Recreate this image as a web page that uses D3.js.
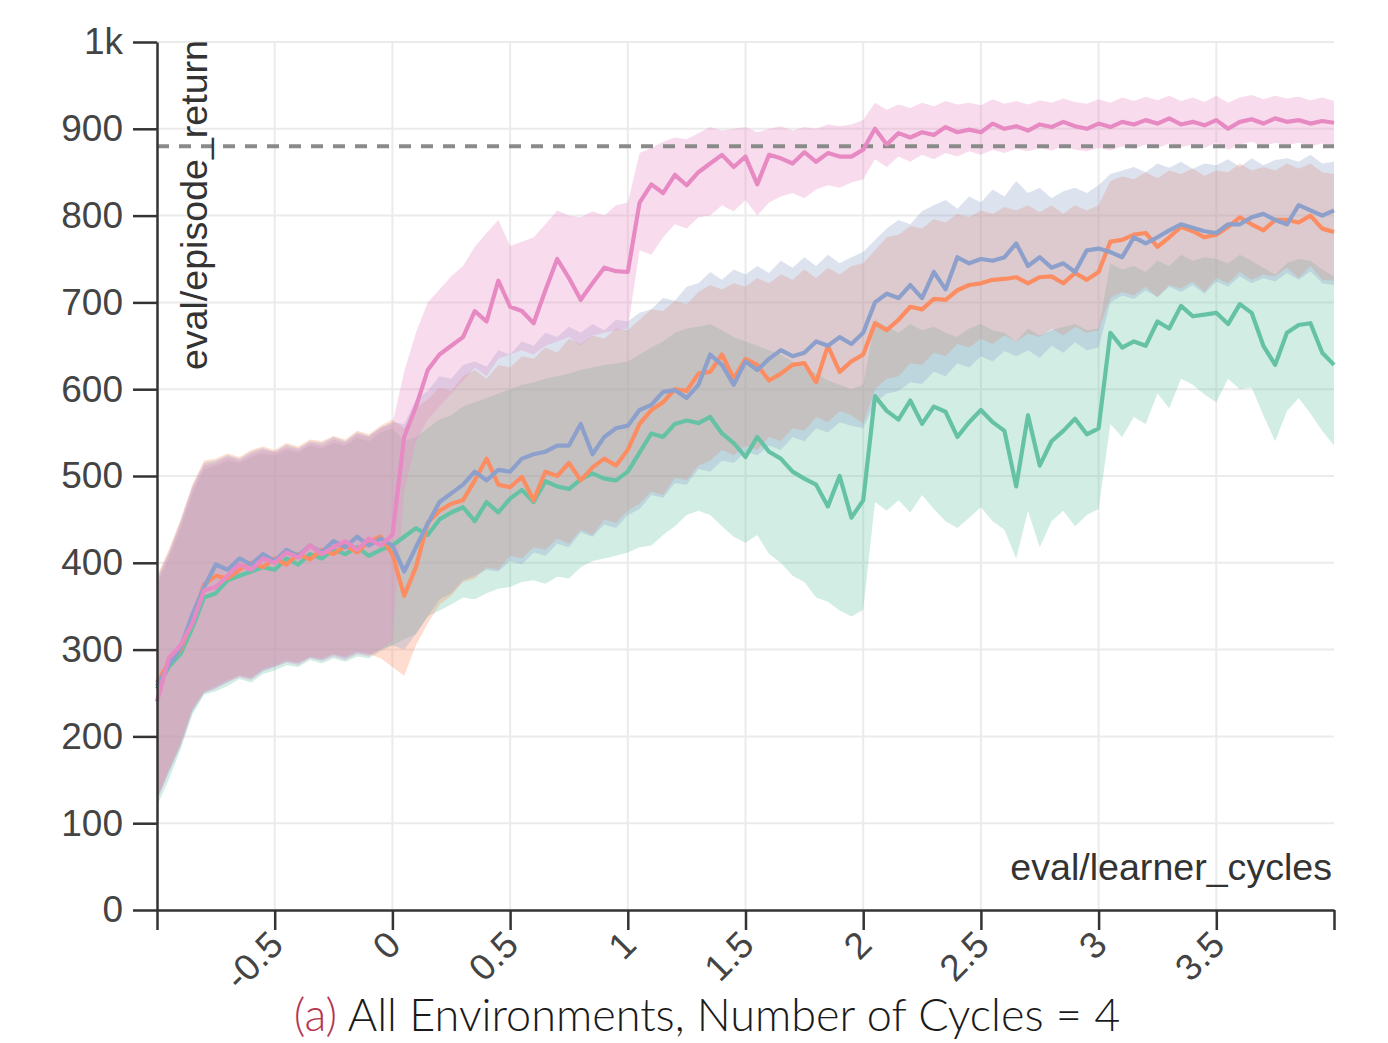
<!DOCTYPE html>
<html>
<head>
<meta charset="utf-8">
<script src="https://cdn.jsdelivr.net/npm/d3@7"></script>
<style>
  body { margin: 0; background: #ffffff; }
  svg { display: block; }
</style>
</head>
<body>
<script>
// ---------- DATA ----------
const xStart = -1, xStep = 0.05; // sample positions along eval/learner_cycles
const seriesNames = ["green", "orange", "blue", "pink"];
const seriesColors = ["#66c2a5", "#fc8d62", "#8da0cb", "#e78ac3"];

const greenMean = [255,280,295,325,360,365,380,385,390,395,392,405,398,410,405,415,410,418,408,415,420,
  430,440,432,450,458,464,448,470,458,474,484,470,494,488,485,496,503,497,495,505,
  527,549,545,560,564,561,568,549,538,522,545,528,520,505,497,490,465,500,452,472,
  592,575,565,587,560,580,574,545,562,576,562,552,488,570,512,540,552,566,548,555,
  665,648,655,650,678,670,696,684,686,688,675,698,688,650,628,665,674,676,642,628];
const greenLow = [120,150,185,225,248,252,258,266,262,272,276,282,280,288,284,290,286,292,290,298,305,
  312,318,338,345,352,360,358,365,370,372,378,380,376,384,382,395,402,405,408,412,
  418,420,432,442,455,460,455,442,430,423,432,410,400,385,378,360,355,345,338,346,
  470,460,472,458,478,462,448,440,452,464,448,438,405,460,418,448,460,442,455,462,
  560,545,568,560,595,578,612,605,594,585,612,600,602,570,540,575,590,572,552,535];
const greenHigh = [375,405,440,480,508,512,518,515,522,526,524,530,527,535,532,538,535,544,540,550,555,
  540,545,555,565,570,580,585,590,595,600,605,608,612,615,618,622,625,628,630,632,
  640,648,655,665,670,672,675,668,660,655,650,645,640,632,625,618,610,605,600,605,
  680,672,665,675,668,672,665,660,670,675,668,665,655,670,662,668,672,675,668,670,
  745,738,742,735,748,742,755,748,752,750,745,755,748,740,732,745,750,748,738,730];

const orangeMean = [262,285,300,335,375,385,382,392,400,395,405,398,410,404,415,410,420,412,425,430,410,
  362,395,446,460,468,472,495,520,490,487,499,472,505,500,515,495,510,520,512,530,
  560,576,585,600,598,618,620,640,612,635,628,610,618,628,630,608,650,620,632,640,
  676,668,680,695,692,704,703,714,720,722,726,727,729,722,729,730,722,734,726,735,
  770,772,778,780,764,775,787,782,775,778,787,798,790,783,795,795,792,800,785,781];
const orangeLow = [130,162,192,232,252,258,265,270,268,278,282,288,285,292,290,295,292,298,295,290,280,
  270,305,330,352,362,378,382,395,392,408,405,418,415,428,422,438,432,450,446,460,
  468,482,478,498,495,512,518,530,524,535,530,545,540,555,552,568,562,575,570,560,
  600,612,615,630,628,642,638,652,648,658,652,662,655,664,660,670,662,672,665,668,
  705,712,708,718,706,720,716,724,712,728,722,735,726,732,730,740,728,742,726,725];
const orangeHigh = [385,415,450,490,518,520,526,522,530,534,530,538,534,542,540,546,542,552,548,558,565,
  555,578,588,602,598,615,622,612,628,625,638,635,648,642,658,652,662,658,670,668,
  680,692,690,702,698,712,720,715,722,718,728,722,732,726,738,728,740,732,742,745,
  760,775,778,788,785,796,792,802,798,806,802,810,806,812,804,812,802,812,806,812,
  840,845,842,850,843,852,848,854,846,852,850,860,852,856,852,860,854,860,850,848];

const blueMean = [258,282,302,340,372,398,392,405,398,410,402,415,408,420,412,425,418,430,420,428,420,
  390,418,445,470,480,490,505,495,507,505,520,525,528,535,535,560,525,545,555,558,
  576,582,597,599,590,605,640,628,605,632,622,635,645,638,642,655,650,660,652,665,
  700,710,705,720,705,735,715,752,745,750,748,752,768,742,752,740,745,735,760,762,
  758,752,775,768,775,783,790,786,782,780,790,790,798,802,795,790,812,806,800,806];
const blueLow = [128,158,188,228,250,256,263,270,266,276,280,286,284,291,288,294,290,296,294,300,305,
  300,318,338,358,365,380,385,392,390,402,398,412,408,422,418,435,430,444,440,455,
  462,478,475,492,490,508,505,518,515,528,524,535,530,545,540,555,550,562,558,555,
  585,595,598,608,606,620,615,630,625,638,632,644,638,645,636,650,642,654,645,648,
  700,708,704,714,706,718,712,720,710,724,718,730,722,728,724,734,726,736,722,720];
const blueHigh = [382,412,448,488,515,518,524,520,528,532,528,536,532,540,538,545,540,550,546,556,562,
  560,588,598,615,612,628,632,626,645,640,655,650,665,660,672,665,675,668,680,678,
  688,692,705,702,718,722,735,726,738,732,742,734,748,740,752,742,755,745,752,758,
  772,785,795,790,805,812,818,808,822,815,830,822,840,826,832,820,828,832,826,835,
  848,852,856,850,860,855,862,854,860,858,865,856,866,858,864,866,862,870,860,862];

const pinkMean = [240,290,305,330,368,372,385,398,392,405,400,412,406,420,410,418,425,415,428,420,432,
  545,580,622,640,650,660,690,678,725,695,690,676,714,750,728,703,722,740,736,735,
  815,836,826,847,835,850,860,870,856,868,836,870,866,860,873,862,872,868,868,876,
  900,882,895,890,896,893,902,896,899,896,906,900,903,898,905,902,908,903,900,906,
  902,908,905,910,906,912,905,908,904,910,900,908,911,906,912,908,910,906,909,907];
const pinkLow = [125,160,190,230,250,255,262,268,265,275,280,285,282,290,287,292,288,295,292,300,310,
  480,540,565,580,595,610,625,615,635,640,645,640,650,655,660,650,662,665,668,670,
  760,755,775,790,785,798,800,812,805,818,800,815,822,826,820,830,835,832,838,842,
  865,856,868,862,870,865,872,868,874,870,876,872,877,874,878,875,880,876,874,878,
  875,880,877,882,878,883,879,882,878,884,876,882,885,880,884,881,884,880,883,880];
const pinkHigh = [380,410,445,485,512,515,522,518,525,530,527,533,530,538,535,542,538,548,545,555,560,
  620,665,700,715,730,742,764,780,795,765,770,775,790,806,800,798,805,800,812,815,
  872,878,885,890,888,895,902,898,900,902,896,900,903,898,902,900,905,903,905,910,
  930,922,928,924,930,926,932,928,930,927,934,929,932,928,933,930,935,931,929,934,
  930,936,932,937,933,938,932,936,931,938,930,936,939,934,938,935,937,933,936,932];

const referenceLevel = 880;
const xTicks = [-1, -0.5, 0, 0.5, 1, 1.5, 2, 2.5, 3, 3.5, 4];
const xTickLabels = ["", "-0.5", "0", "0.5", "1", "1.5", "2", "2.5", "3", "3.5", ""];
const xGrid = [-0.5, 0, 0.5, 1, 1.5, 2, 2.5, 3, 3.5];
const yTicks = [0, 100, 200, 300, 400, 500, 600, 700, 800, 900, 1000];
const yTickLabels = ["0", "100", "200", "300", "400", "500", "600", "700", "800", "900", "1k"];
const xAxisTitle = "eval/learner_cycles";
const yAxisTitle = "eval/episode_return";
const captionTag = "(a)";
const captionText = " All Environments, Number of Cycles = 4";

// ---------- BUILD ----------
const W = 1388, H = 1043;
const plot = { left: 157, right: 1334, top: 42, bottom: 910 };
const x = d3.scaleLinear().domain([-1, 4]).range([plot.left, plot.right]);
const y = d3.scaleLinear().domain([0, 1000]).range([plot.bottom, plot.top]);

const means = [greenMean, orangeMean, blueMean, pinkMean];
const lows = [greenLow, orangeLow, blueLow, pinkLow];
const highs = [greenHigh, orangeHigh, blueHigh, pinkHigh];
const series = seriesNames.map((name, s) => ({
  name, color: seriesColors[s],
  points: means[s].map((v, i) => ({ x: xStart + i * xStep, m: v, lo: lows[s][i], hi: highs[s][i] }))
}));

const svg = d3.select("body").append("svg").attr("width", W).attr("height", H);
const axisFont = "'Liberation Sans', Arial, sans-serif";

// grid
const grid = svg.append("g").attr("stroke", "#ebebeb").attr("stroke-width", 2);
grid.selectAll("line.v").data(xGrid).join("line").attr("class", "v")
  .attr("x1", d => x(d)).attr("x2", d => x(d)).attr("y1", plot.top).attr("y2", plot.bottom);
grid.selectAll("line.h").data(yTicks.filter(d => d > 0)).join("line").attr("class", "h")
  .attr("x1", plot.left).attr("x2", plot.right).attr("y1", d => y(d)).attr("y2", d => y(d));

// bands
const area = d3.area().x(d => x(d.x)).y0(d => y(d.lo)).y1(d => y(d.hi));
svg.append("g").selectAll("path").data(series).join("path")
  .attr("d", d => area(d.points)).attr("fill", d => d.color).attr("fill-opacity", 0.3).attr("stroke", "none");

// reference dashed line
svg.append("line")
  .attr("x1", plot.left).attr("x2", plot.right)
  .attr("y1", y(referenceLevel)).attr("y2", y(referenceLevel))
  .attr("stroke", "#8a8a8a").attr("stroke-width", 4).attr("stroke-dasharray", "12,10");

// lines
const line = d3.line().x(d => x(d.x)).y(d => y(d.m));
svg.append("g").selectAll("path").data(series).join("path")
  .attr("d", d => line(d.points)).attr("fill", "none").attr("stroke", d => d.color)
  .attr("stroke-width", 4.2).attr("stroke-linejoin", "round");

// axes
const yAxis = svg.append("g").attr("transform", `translate(${plot.left},0)`)
  .call(d3.axisLeft(y).tickValues(yTicks).tickFormat((d, i) => yTickLabels[i])
    .tickSizeInner(24).tickSizeOuter(0).tickPadding(10));
const xAxis = svg.append("g").attr("transform", `translate(0,${plot.bottom})`)
  .call(d3.axisBottom(x).tickValues(xTicks).tickFormat((d, i) => xTickLabels[i])
    .tickSizeInner(20).tickSizeOuter(0));
[yAxis, xAxis].forEach(g => {
  g.select(".domain").attr("stroke", "#333").attr("stroke-width", 2.5);
  g.selectAll(".tick line").attr("stroke", "#333").attr("stroke-width", 2.5);
  g.selectAll(".tick text").attr("fill", "#444").style("font-family", axisFont).style("font-size", "37px");
});
xAxis.selectAll(".tick text")
  .attr("x", null).attr("y", null).attr("dy", null)
  .attr("text-anchor", "end")
  .attr("transform", "translate(10,37) rotate(-45)");

// axis titles
svg.append("text").attr("transform", "translate(207,40) rotate(-90)")
  .attr("text-anchor", "end").attr("fill", "#333")
  .style("font-family", axisFont).style("font-size", "37.6px").text(yAxisTitle);
svg.append("text").attr("x", 1332).attr("y", 880)
  .attr("text-anchor", "end").attr("fill", "#333")
  .style("font-family", axisFont).style("font-size", "37.6px").text(xAxisTitle);

// caption
const cap = svg.append("text").attr("x", 707).attr("y", 1031).attr("text-anchor", "middle")
  .style("font-family", "Lato, 'Open Sans', sans-serif").style("font-weight", 300).style("font-size", "45px");
cap.append("tspan").attr("fill", "#b5364f").text(captionTag);
cap.append("tspan").attr("fill", "#1a1a1a").text(captionText);
</script>
</body>
</html>
